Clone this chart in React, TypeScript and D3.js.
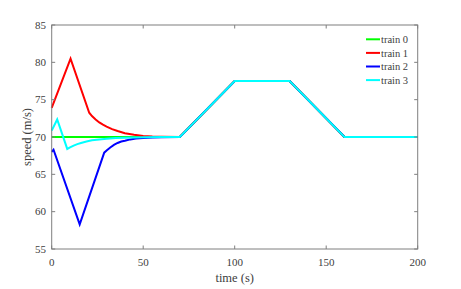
import React, { useEffect, useRef } from 'react';
import * as d3 from 'd3';

// time (s) / speed (m/s) points
const train0T = [0, 70, 100, 130, 160, 200];
const train0V = [70, 70, 77.5, 77.5, 70, 70];

const train1T = [0, 10.3, 20.5, 22, 24, 26, 28, 30, 33, 36, 40, 45, 50, 55, 60, 70, 100, 130, 160, 200];
const train1V = [73.9, 80.5, 73.25, 72.8, 72.35, 71.95, 71.65, 71.4, 71.05, 70.8, 70.5, 70.3, 70.15, 70.08, 70.04, 70, 77.5, 77.5, 70, 70];

const train2T = [0, 1, 15.3, 28.7, 30, 32, 34, 36, 38, 40, 43, 46, 50, 55, 60, 70, 100, 130, 160, 200];
const train2V = [68.0, 68.3, 58.3, 67.9, 68.2, 68.6, 68.95, 69.2, 69.4, 69.5, 69.68, 69.8, 69.88, 69.94, 69.97, 70, 77.5, 77.5, 70, 70];

const train3T = [0, 3, 8.5, 10, 12, 14, 16, 19, 22, 26, 30, 35, 40, 50, 60, 70, 100, 130, 160, 200];
const train3V = [70.85, 72.35, 68.4, 68.6, 68.85, 69.05, 69.2, 69.4, 69.55, 69.68, 69.77, 69.85, 69.9, 69.96, 69.99, 70, 77.5, 77.5, 70, 70];

const seriesNames = ['train 0', 'train 1', 'train 2', 'train 3'];
const seriesColors = ['#00ff00', '#ff0000', '#0000ff', '#00ffff'];

const xTicks = [0, 50, 100, 150, 200];
const yTicks = [55, 60, 65, 70, 75, 80, 85];

const SpeedChart: React.FC = () => {
  const svgRef = useRef<SVGSVGElement>(null);

  useEffect(() => {
    if (!svgRef.current) return;

    const width = 461;
    const height = 289;
    const left = 51.7, right = 417.7, top = 25, bottom = 249;
    const font = '"Liberation Serif", "DejaVu Serif", serif';
    const axisColor = '#7f7f7f';
    const textColor = '#404040';

    const svg = d3.select(svgRef.current);
    svg.selectAll('*').remove();
    svg.attr('width', width).attr('height', height);

    const x = d3.scaleLinear().domain([0, 200]).range([left, right]);
    const y = d3.scaleLinear().domain([55, 85]).range([bottom, top]);

    svg.append('rect').attr('width', width).attr('height', height).attr('fill', 'white');

    // Lines
    const allT = [train0T, train1T, train2T, train3T];
    const allV = [train0V, train1V, train2V, train3V];
    const path = d3.line<[number, number]>()
      .x(d => x(d[0]))
      .y(d => y(d[1]));

    allT.forEach((ts, i) => {
      const pts: [number, number][] = ts.map((t, j) => [t, allV[i][j]]);
      svg.append('path')
        .attr('d', path(pts) as string)
        .attr('fill', 'none')
        .attr('stroke', seriesColors[i])
        .attr('stroke-width', 2)
        .attr('stroke-linejoin', 'miter');
    });

    // Box
    svg.append('rect')
      .attr('x', left).attr('y', top)
      .attr('width', right - left).attr('height', bottom - top)
      .attr('fill', 'none')
      .attr('stroke', axisColor)
      .attr('stroke-width', 1);

    // Ticks (inside, on all four sides)
    const tickLen = 3.5;
    xTicks.forEach(t => {
      svg.append('line').attr('x1', x(t)).attr('x2', x(t)).attr('y1', bottom).attr('y2', bottom - tickLen).attr('stroke', axisColor);
      svg.append('line').attr('x1', x(t)).attr('x2', x(t)).attr('y1', top).attr('y2', top + tickLen).attr('stroke', axisColor);
      svg.append('text')
        .attr('x', x(t)).attr('y', 265.5)
        .attr('text-anchor', 'middle')
        .attr('font-family', font).attr('font-size', '11px')
        .attr('fill', textColor)
        .text(t);
    });
    yTicks.forEach(v => {
      svg.append('line').attr('x1', left).attr('x2', left + tickLen).attr('y1', y(v)).attr('y2', y(v)).attr('stroke', axisColor);
      svg.append('line').attr('x1', right).attr('x2', right - tickLen).attr('y1', y(v)).attr('y2', y(v)).attr('stroke', axisColor);
      svg.append('text')
        .attr('x', 46).attr('y', y(v) + 3.8)
        .attr('text-anchor', 'end')
        .attr('font-family', font).attr('font-size', '11px')
        .attr('fill', textColor)
        .text(v);
    });

    // Axis labels
    svg.append('text')
      .attr('x', (left + right) / 2).attr('y', 282)
      .attr('text-anchor', 'middle')
      .attr('font-family', font).attr('font-size', '12.5px')
      .attr('fill', textColor)
      .text('time (s)');
    svg.append('text')
      .attr('transform', `translate(31,${(top + bottom) / 2}) rotate(-90)`)
      .attr('text-anchor', 'middle')
      .attr('font-family', font).attr('font-size', '12.5px')
      .attr('fill', textColor)
      .text('speed (m/s)');

    // Legend
    seriesNames.forEach((name, i) => {
      const ly = 39.3 + i * 13.6;
      svg.append('line')
        .attr('x1', 366).attr('x2', 380).attr('y1', ly).attr('y2', ly)
        .attr('stroke', seriesColors[i]).attr('stroke-width', 2);
      svg.append('text')
        .attr('x', 381).attr('y', ly + 3.6)
        .attr('font-family', font).attr('font-size', '10.5px')
        .attr('fill', textColor)
        .text(name);
    });
  }, []);

  return <svg ref={svgRef} style={{ position: 'absolute', left: 0, top: 0 }}></svg>;
};

export default function App() {
  return <SpeedChart />;
}
